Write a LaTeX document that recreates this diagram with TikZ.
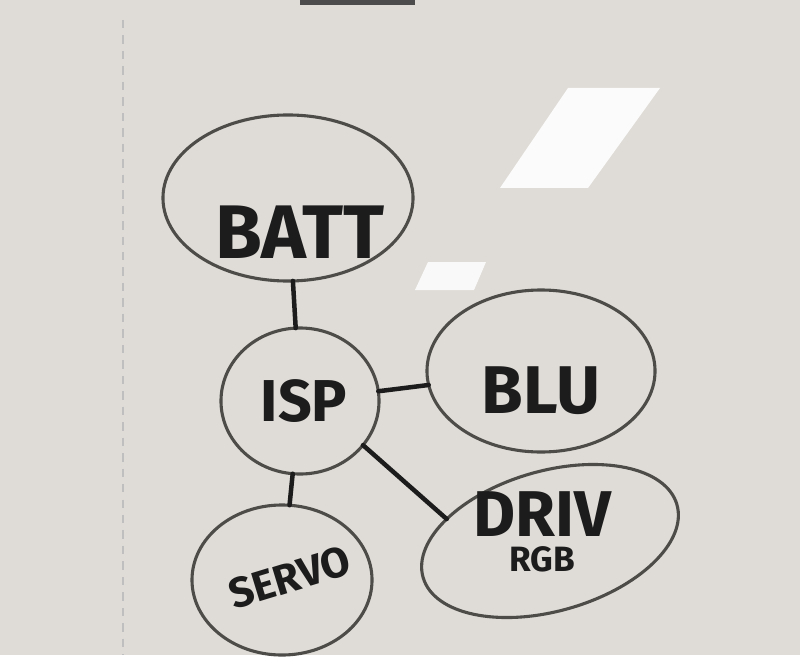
\documentclass[tikz,border=0pt]{standalone}
\usepackage{fontspec}
\setmainfont{Fira Sans}
\usepackage{tikz}
\usetikzlibrary{shapes.geometric,positioning,calc}
\definecolor{board}{RGB}{223,220,215}
\definecolor{marker}{RGB}{78,76,73}
\definecolor{ink}{RGB}{28,28,28}
\tikzset {
    part/.style={draw=marker, ellipse, line width=2.2pt, inner sep=0pt,
        outer sep=0pt},
    tag/.style={text=ink, inner sep=1pt,
        font=\bfseries\fontsize{#1}{#1}\selectfont},
    tag/.default=38,
    wire/.style={draw=ink, line width=3.2pt, line cap=round},
    glare/.style={fill=white, draw=none}
}

\begin{document}
\begin{tikzpicture}[x=0.025cm, y=-0.025cm]

        \fill[board] (0,0) rectangle (800,655);
        \fill[black!70] (300,0) rectangle (415,5);
        \draw[black!25, line width=1pt, dash pattern=on 6pt off 5pt]
            (123,20) -- (123,655);
        \fill[glare, opacity=0.9] (568,88) -- (660,88) -- (588,188)
            -- (500,188) -- cycle;
        \fill[glare, opacity=0.85] (428,262) -- (486,262) -- (474,290)
            -- (415,290) -- cycle;

        \node[part, minimum width=6.25cm, minimum height=4.15cm,
            label={[tag=54, xshift=3mm, yshift=-8.5mm]center:BATT}]
            (BATT) at (288,198) {};
        \node[part, minimum width=3.95cm, minimum height=3.65cm,
            label={[tag=42, xshift=1mm]center:ISP}] (ISP) at (300,401) {};
        \node[part, minimum width=5.7cm, minimum height=4.05cm,
            label={[tag=48, yshift=-5mm]center:BLU}] (BLU) at (541,371) {};
        \node[part, minimum width=6.6cm, minimum height=3.5cm, rotate=16]
            (DRIV) at (550,541) {};
        \node[tag=46] (DRIVtxt) at (542,514) {DRIV};
        \node[tag=25, below=1.8mm of DRIVtxt] (RGB) {RGB};
        \node[part, minimum width=4.5cm, minimum height=3.75cm,
            label={[tag=30, rotate=17, xshift=2mm]center:SERVO}]
            (SERVO) at (282,580) {};

        \draw[wire] (BATT) -- (ISP);
        \draw[wire] (ISP) -- (BLU);
        \draw[wire] (ISP.-35) -- (DRIV.152);
        \draw[wire] (ISP) -- (SERVO);

    \end{tikzpicture}
\end{document}
